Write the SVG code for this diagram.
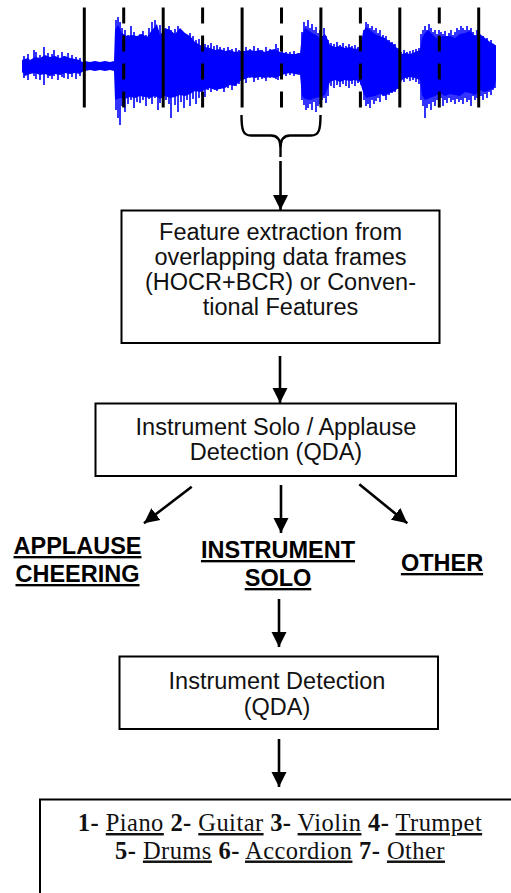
<svg xmlns="http://www.w3.org/2000/svg" width="511" height="893" viewBox="0 0 511 893">
  <style>
    .box { fill: #fff; stroke: #000; stroke-width: 2; }
    .lbl { font-family: "Liberation Sans", Arial, sans-serif; font-size: 23.5px; fill: #111; text-anchor: middle; }
    .cls { font-family: "Liberation Sans", Arial, sans-serif; font-size: 23.5px; font-weight: bold; fill: #000; text-anchor: middle; text-decoration: underline; }
    .res { font-family: "Liberation Serif", "Times New Roman", serif; font-size: 24.5px; letter-spacing: 0.45px; fill: #111; text-anchor: middle; }
    .res .n { font-weight: bold; }
    .res .u { text-decoration: underline; }
    .conn line { stroke: #000; stroke-width: 2.6; marker-end: url(#head); }
    .frame { stroke: #000; stroke-width: 3; }
    .frame.dash { stroke-dasharray: 16 12; }
  </style>
  <defs>
    <marker id="head" markerUnits="userSpaceOnUse" markerWidth="16" markerHeight="16" viewBox="0 0 16 16" refX="15" refY="8" orient="auto">
      <path d="M0,0.5 L15,8 L0,15.5 z" fill="#000"/>
    </marker>
  </defs>

  <!-- audio waveform with analysis frame boundaries -->
  <g id="waveform">
    <path fill="#0000ff" d="M22 60 L28 58 L30 60 L35 57 L40 58 L45 55 L50 57 L55 56 L60 58 L65 56 L70 58 L75 59 L80 60 L82 62 L85 61 L90 62 L95 61 L100 62 L105 61 L110 62 L114 61 L115 30 L118 25 L122 33 L127 36 L132 35 L137 36 L142 34 L147 37 L152 30 L157 24 L160 35 L165 28 L170 30 L175 34 L180 28 L185 33 L190 36 L195 42 L200 45 L205 47 L210 48 L215 50 L220 49 L225 51 L230 50 L235 52 L240 51 L245 51 L250 50 L255 51 L260 50 L265 52 L270 50 L275 49 L280 52 L285 53 L290 54 L295 54 L300 53 L302 35 L305 28 L308 30 L312 33 L316 35 L320 38 L325 34 L328 40 L330 45 L335 47 L340 46 L345 48 L350 47 L355 49 L360 48 L363 32 L366 27 L370 30 L375 34 L380 36 L385 38 L390 42 L395 45 L398 50 L402 54 L405 53 L410 54 L415 52 L420 50 L422 38 L425 33 L428 30 L432 34 L436 38 L440 37 L445 36 L450 36 L455 38 L460 34 L465 33 L470 31 L475 36 L480 34 L485 38 L490 42 L494 44 L496 46 L496 80 L494 88 L490 90 L485 92 L480 90 L475 95 L470 93 L465 92 L460 96 L455 95 L450 94 L445 96 L440 93 L435 96 L430 98 L425 100 L422 95 L420 80 L415 78 L410 77 L405 78 L402 80 L398 88 L395 91 L390 93 L385 96 L380 94 L375 96 L370 97 L366 98 L363 92 L360 82 L355 80 L350 81 L345 80 L340 82 L335 80 L330 82 L328 88 L325 95 L320 97 L315 98 L310 100 L305 99 L302 96 L300 75 L295 74 L290 73 L285 74 L280 76 L275 78 L270 77 L265 78 L260 77 L255 78 L250 77 L245 79 L240 81 L235 86 L230 85 L225 88 L220 89 L215 90 L210 88 L205 90 L200 92 L195 91 L190 94 L185 96 L180 95 L175 97 L170 98 L165 96 L160 99 L155 96 L150 98 L145 97 L140 96 L135 98 L130 97 L125 99 L120 98 L115 100 L114 71 L110 70 L105 71 L100 70 L95 71 L90 70 L85 71 L82 72 L80 74 L75 73 L70 74 L65 73 L60 75 L55 74 L50 76 L45 74 L40 75 L35 73 L30 74 L25 76 L22 72 Z"/>
    <path stroke="#0000ff" stroke-width="1.6" fill="none" d="M24 56V78M28 54V80M34 50V76M36 52V79M40 55V80M44 47V85M48 53V78M52 54V79M54 50V76M58 55V80M62 52V77M64 56V78M68 53V79M72 55V77M76 57V79M80 58V76M116 20V110M118 17V118M120 22V125M122 28V106M125 30V112M128 35V104M131 26V100M134 32V108M137 36V102M140 34V103M143 31V100M146 35V106M149 28V99M152 22V104M155 20V98M158 30V110M160 25V103M163 24V106M166 32V100M169 26V104M171 30V118M175 29V105M178 26V112M181 30V102M184 36V108M187 38V100M190 33V106M193 36V99M196 40V104M199 39V98M202 42V95M205 44V97M208 45V90M211 43V92M214 46V88M217 45V91M220 47V89M224 48V92M228 47V88M232 49V90M236 48V86M239 50V84M242 49V80M246 47V83M250 49V78M254 46V82M258 48V80M262 50V79M266 47V81M270 49V78M276 44V79M278 48V80M282 50V78M286 52V76M290 52V75M294 51V76M298 53V74M302 32V100M304 22V105M306 26V110M308 20V108M310 28V104M312 24V110M314 30V102M316 27V112M318 33V106M320 30V104M322 36V100M324 28V98M326 36V103M328 40V96M331 43V86M334 44V88M337 42V85M340 45V87M343 43V84M346 46V86M349 44V88M352 46V84M355 45V86M358 47V83M361 46V85M364 30V100M366 22V106M368 24V104M370 28V108M372 26V100M374 30V104M376 28V101M378 33V98M380 30V102M383 35V96M386 36V100M389 40V95M392 42V93M395 44V92M398 48V89M401 52V80M404 50V82M407 52V79M410 51V81M413 50V80M416 49V82M419 48V84M421 34V100M423 30V106M425 26V118M427 30V108M429 24V104M431 28V110M433 32V102M435 30V106M437 34V100M439 30V104M441 32V98M443 34V106M445 31V100M447 36V103M449 33V98M451 30V102M453 35V100M455 32V104M457 28V99M459 30V102M461 26V100M463 28V104M465 30V98M467 26V102M469 30V100M471 28V106M473 32V96M475 35V100M477 30V98M479 34V102M481 38V96M483 36V100M485 40V94M487 38V98M489 42V92M491 40V95M493 44V90M495 45V88"/>
    <!-- frame boundaries: solid = frame start, dashed = overlapping frame start -->
    <line class="frame" x1="84.3" y1="7.5" x2="84.3" y2="107.5"/>
    <line class="frame dash" x1="123.7" y1="7.5" x2="123.7" y2="107.5"/>
    <line class="frame" x1="163.2" y1="7.5" x2="163.2" y2="107.5"/>
    <line class="frame dash" x1="202.6" y1="7.5" x2="202.6" y2="107.5"/>
    <line class="frame" x1="242.1" y1="7.5" x2="242.1" y2="107.5"/>
    <line class="frame dash" x1="281.5" y1="7.5" x2="281.5" y2="107.5"/>
    <line class="frame" x1="320.9" y1="7.5" x2="320.9" y2="107.5"/>
    <line class="frame dash" x1="360.4" y1="7.5" x2="360.4" y2="107.5"/>
    <line class="frame" x1="399.8" y1="7.5" x2="399.8" y2="107.5"/>
    <line class="frame dash" x1="439.3" y1="7.5" x2="439.3" y2="107.5"/>
    <line class="frame" x1="478.7" y1="7.5" x2="478.7" y2="107.5"/>
    <!-- brace grouping one frame -->
    <path d="M241.5 115 C241.5 130 243 135.5 251 135.5 H271 C278 135.5 280.5 140 280.5 148 V157 M320.5 115 C320.5 130 319 135.5 311 135.5 H290 C283 135.5 280.5 140 280.5 148" fill="none" stroke="#000" stroke-width="2.4"/>
  </g>

  <g id="features">
    <rect class="box" x="121.5" y="210.5" width="318" height="132.5"/>
    <text class="lbl" x="280.5" y="240">Feature extraction from</text>
    <text class="lbl" x="280.5" y="265">overlapping data frames</text>
    <text class="lbl" x="280.5" y="290">(HOCR+BCR) or Conven-</text>
    <text class="lbl" x="280.5" y="315">tional Features</text>
  </g>

  <g id="solo-detection">
    <rect class="box" x="95.5" y="403.5" width="360.5" height="72.5"/>
    <text class="lbl" x="276" y="435">Instrument Solo / Applause</text>
    <text class="lbl" x="276" y="460">Detection (QDA)</text>
  </g>

  <g id="applause">
    <text class="cls" x="77.5" y="554">APPLAUSE</text>
    <text class="cls" x="77.5" y="582">CHEERING</text>
  </g>

  <g id="solo">
    <text class="cls" x="278" y="558">INSTRUMENT</text>
    <text class="cls" x="278" y="586">SOLO</text>
  </g>

  <g id="other">
    <text class="cls" x="442" y="571">OTHER</text>
  </g>

  <g id="instrument-detection">
    <rect class="box" x="119.5" y="656.5" width="318.5" height="72.5"/>
    <text class="lbl" x="277" y="689">Instrument Detection</text>
    <text class="lbl" x="277" y="715">(QDA)</text>
  </g>

  <g id="instruments">
    <rect class="box" x="40" y="799.5" width="480" height="100"/>
    <text class="res" x="280" y="831"><tspan class="n">1-</tspan> <tspan class="u">Piano</tspan> <tspan class="n">2-</tspan> <tspan class="u">Guitar</tspan> <tspan class="n">3-</tspan> <tspan class="u">Violin</tspan> <tspan class="n">4-</tspan> <tspan class="u">Trumpet</tspan></text>
    <text class="res" x="280" y="858.5"><tspan class="n">5-</tspan> <tspan class="u">Drums</tspan> <tspan class="n">6-</tspan> <tspan class="u">Accordion</tspan> <tspan class="n">7-</tspan> <tspan class="u">Other</tspan></text>
  </g>

  <g id="connectors" class="conn">
    <line x1="280.5" y1="161" x2="280.5" y2="210"/>
    <line x1="280" y1="356" x2="280" y2="403"/>
    <line x1="191.7" y1="486.7" x2="144" y2="523.3"/>
    <line x1="281" y1="485" x2="281" y2="533"/>
    <line x1="359.3" y1="484.3" x2="407.3" y2="523.3"/>
    <line x1="279" y1="599" x2="279" y2="647"/>
    <line x1="279" y1="739" x2="279" y2="787"/>
  </g>
</svg>
